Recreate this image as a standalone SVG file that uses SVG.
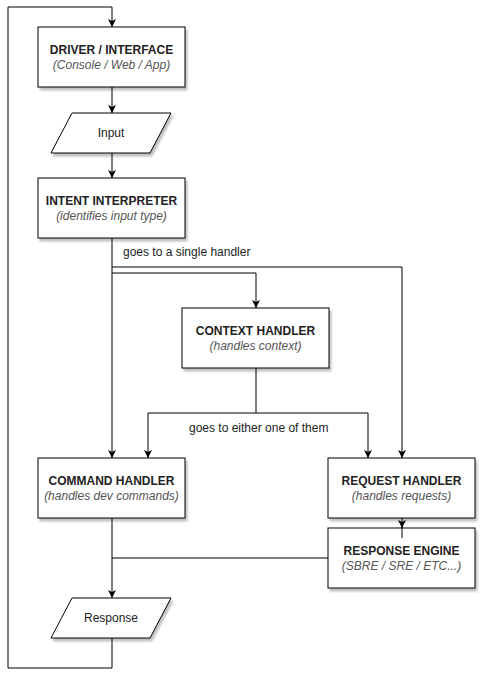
<svg xmlns="http://www.w3.org/2000/svg" width="486" height="688" viewBox="0 0 486 688">
<defs>
<marker id="arr" viewBox="0 0 10 10" refX="10" refY="5" markerWidth="8" markerHeight="8" markerUnits="userSpaceOnUse" orient="auto">
<path d="M0,0 L10,5 L0,10 L2.5,5 Z" fill="#000"/>
</marker>
<filter id="sh" x="-10%" y="-10%" width="130%" height="140%">
<feGaussianBlur in="SourceAlpha" stdDeviation="1.2"/>
<feOffset dx="2" dy="3" result="b"/>
<feComponentTransfer><feFuncA type="linear" slope="0.25"/></feComponentTransfer>
<feMerge><feMergeNode/><feMergeNode in="SourceGraphic"/></feMerge>
</filter>
<style>
.box{fill:#fff;stroke:#000;stroke-width:1;filter:url(#sh)}
.t{font-family:"Liberation Sans",Arial,sans-serif;font-size:12px;font-weight:bold;fill:#222;text-anchor:middle}
.s{font-family:"Liberation Sans",Arial,sans-serif;font-size:12px;font-style:italic;fill:#555;text-anchor:middle}
.p{font-family:"Liberation Sans",Arial,sans-serif;font-size:12px;fill:#222;text-anchor:middle}
.lbl{font-family:"Liberation Sans",Arial,sans-serif;font-size:12px;fill:#222}
.c{fill:none;stroke:#000;stroke-width:1}
</style>
</defs>
<rect width="486" height="688" fill="#fff"/>
<g id="connectors">
<path class="c" d="M112,638 L112,668 L8,668 L8,7 L112,7 L112,27" marker-end="url(#arr)"/>
<path class="c" d="M112,87 L112,113" marker-end="url(#arr)"/>
<path class="c" d="M112,153 L112,178" marker-end="url(#arr)"/>
<path class="c" d="M112,238 L112,458" marker-end="url(#arr)"/>
<path class="c" d="M112,267 L402,267 L402,458" marker-end="url(#arr)"/>
<path class="c" d="M112,273 L256,273 L256,308" marker-end="url(#arr)"/>
<path class="c" d="M256,368 L256,413 L148,413 L148,458" marker-end="url(#arr)"/>
<path class="c" d="M256,413 L368,413 L368,458" marker-end="url(#arr)"/>
<path class="c" d="M402,518 L402,528" marker-end="url(#arr)"/>
<path class="c" d="M402,526 L402,538"/>
<path class="c" d="M112,518 L112,598" marker-end="url(#arr)"/>
<path class="c" d="M328,558 L112,558"/>
<text class="lbl" x="123" y="256">goes to a single handler</text>
<text class="lbl" x="189" y="432">goes to either one of them</text>
</g>
<g id="driver">
<rect class="box" x="38" y="27" width="147" height="60"/>
<text class="t" x="111.5" y="54">DRIVER / INTERFACE</text>
<text class="s" x="111.5" y="69">(Console / Web / App)</text>
</g>
<g id="input">
<polygon class="box" points="72,113 171,113 150,153 51,153"/>
<text class="p" x="111" y="137">Input</text>
</g>
<g id="intent">
<rect class="box" x="38" y="178" width="147" height="60"/>
<text class="t" x="111.5" y="205">INTENT INTERPRETER</text>
<text class="s" x="111.5" y="220">(identifies input type)</text>
</g>
<g id="context">
<rect class="box" x="182" y="308" width="147" height="60"/>
<text class="t" x="255.5" y="335">CONTEXT HANDLER</text>
<text class="s" x="255.5" y="350">(handles context)</text>
</g>
<g id="command">
<rect class="box" x="38" y="458" width="147" height="60"/>
<text class="t" x="111.5" y="485">COMMAND HANDLER</text>
<text class="s" x="111.5" y="500">(handles dev commands)</text>
</g>
<g id="request">
<rect class="box" x="328" y="458" width="147" height="60"/>
<text class="t" x="401.5" y="485">REQUEST HANDLER</text>
<text class="s" x="401.5" y="500">(handles requests)</text>
</g>
<g id="engine">
<rect class="box" x="328" y="528" width="147" height="60"/>
<text class="t" x="401.5" y="555">RESPONSE ENGINE</text>
<text class="s" x="401.5" y="570">(SBRE / SRE / ETC...)</text>
<path class="c" d="M402,528 L402,538"/>
</g>
<g id="response">
<polygon class="box" points="72,598 171,598 150,638 51,638"/>
<text class="p" x="111" y="622">Response</text>
</g>
</svg>
